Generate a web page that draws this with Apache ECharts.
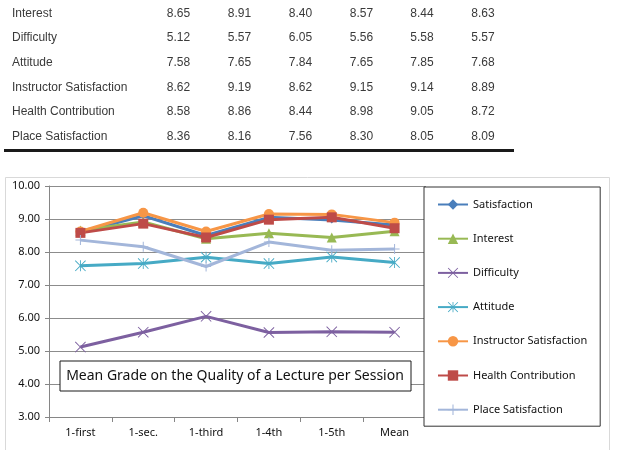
<!DOCTYPE html>
<html><head><meta charset="utf-8">
<script src="https://cdn.jsdelivr.net/npm/echarts@6/dist/echarts.min.js"></script>
<style>html,body{margin:0;padding:0;background:#fff}#c{width:619px;height:450px}</style>
</head><body><div id="c"></div>
<script>
const categories = ['1-first', '1-sec.', '1-third', '1-4th', '1-5th', 'Mean'];
const seriesNames = ['Satisfaction', 'Interest', 'Difficulty', 'Attitude', 'Instructor Satisfaction', 'Health Contribution', 'Place Satisfaction'];
const satisfaction = [8.60, 9.10, 8.50, 9.05, 8.97, 8.82];
const interest = [8.65, 8.91, 8.40, 8.57, 8.44, 8.63];
const difficulty = [5.12, 5.57, 6.05, 5.56, 5.58, 5.57];
const attitude = [7.58, 7.65, 7.84, 7.65, 7.85, 7.68];
const instructorSatisfaction = [8.62, 9.19, 8.62, 9.15, 9.14, 8.89];
const healthContribution = [8.58, 8.86, 8.44, 8.98, 9.05, 8.72];
const placeSatisfaction = [8.36, 8.16, 7.56, 8.30, 8.05, 8.09];
const tableRows = ['Interest', 'Difficulty', 'Attitude', 'Instructor Satisfaction', 'Health Contribution', 'Place Satisfaction'];
const tableValues = [interest, difficulty, attitude, instructorSatisfaction, healthContribution, placeSatisfaction];
const yTicks = [3, 4, 5, 6, 7, 8, 9, 10];
const chartTitle = 'Mean Grade on the Quality of a Lecture per Session';

const allSeries = [satisfaction, interest, difficulty, attitude, instructorSatisfaction, healthContribution, placeSatisfaction];
const colors = ['#4A7EBB', '#98B954', '#7D60A0', '#46AAC5', '#F79646', '#BE4B48', '#A3B6DA'];
const X_PATH = 'path://M0,0.6L0.6,0L5,4.4L9.4,0L10,0.6L5.6,5L10,9.4L9.4,10L5,5.6L0.6,10L0,9.4L4.4,5Z';
const STAR_PATH = 'path://M0,0.6L0.6,0L5,4.4L9.4,0L10,0.6L5.6,5L10,9.4L9.4,10L5,5.6L0.6,10L0,9.4L4.4,5ZM4.6,0L5.4,0L5.4,10L4.6,10Z';
const PLUS_PATH = 'path://M4.5,0L5.5,0L5.5,4.5L10,4.5L10,5.5L5.5,5.5L5.5,10L4.5,10L4.5,5.5L0,5.5L0,4.5L4.5,4.5Z';
const symbols = ['diamond', 'triangle', X_PATH, STAR_PATH, 'circle', 'rect', PLUS_PATH];
const symbolSizes = [7, 10, 11, 11, 10, 10, 10];

const chart = echarts.init(document.getElementById('c'), null, {renderer: 'canvas'});

const graphics = [];
// chart outer frame
graphics.push({type: 'rect', left: 5, top: 177, z: -10, shape: {width: 604, height: 290},
  style: {fill: '#fff', stroke: '#D9D9D9', lineWidth: 1}});
// table
const colX = [178.5, 239.5, 300.5, 361.5, 422, 483];
tableRows.forEach((name, r) => {
  const y = 13.5 + r * 24.6;
  graphics.push({type: 'text', x: 12, y: y, style: {text: name, font: '12px "Liberation Sans", Arial, sans-serif',
    fill: '#3a3a3a', textAlign: 'left', textVerticalAlign: 'middle'}});
  tableValues[r].forEach((v, c) => {
    graphics.push({type: 'text', x: colX[c], y: y, style: {text: v.toFixed(2), font: '12px "Liberation Sans", Arial, sans-serif',
      fill: '#3a3a3a', textAlign: 'center', textVerticalAlign: 'middle'}});
  });
});
graphics.push({type: 'rect', left: 4, top: 149, shape: {width: 510, height: 3}, style: {fill: '#1a1a1a'}});
// title box
graphics.push({type: 'rect', left: 59.5, top: 360.5, z: 50, shape: {width: 351, height: 30},
  style: {fill: '#fff', stroke: '#1a1a1a', lineWidth: 1}});
graphics.push({type: 'text', x: 235, y: 376, z: 51, style: {text: chartTitle, font: '14px "Noto Sans", sans-serif',
  fill: '#111', textAlign: 'center', textVerticalAlign: 'middle'}});

const option = {
  animation: false,
  backgroundColor: '#fff',
  color: colors,
  textStyle: {fontFamily: '"Noto Sans", sans-serif'},
  grid: {left: 49, right: 193, top: 186, bottom: 33, containLabel: false},
  legend: {
    orient: 'vertical', left: 424, top: 187,
    padding: [12, 13, 11, 13], itemGap: 23.2, itemWidth: 30, itemHeight: 13,
    borderColor: '#333', borderWidth: 1, backgroundColor: '#fff',
    textStyle: {fontSize: 11, color: '#111', fontFamily: '"Noto Sans", sans-serif'},
    data: seriesNames
  },
  xAxis: {
    type: 'category', data: categories, boundaryGap: true,
    axisLine: {lineStyle: {color: '#868686', width: 1}},
    axisTick: {show: true, length: 5, lineStyle: {color: '#868686'}},
    axisLabel: {fontSize: 11, color: '#111', margin: 10}
  },
  yAxis: {
    type: 'value', min: yTicks[0], max: yTicks[yTicks.length - 1], interval: 1,
    axisLine: {show: true, lineStyle: {color: '#868686', width: 1}},
    axisTick: {show: true, length: 4, lineStyle: {color: '#868686'}},
    axisLabel: {fontSize: 11, color: '#111', margin: 9, formatter: v => v.toFixed(2)},
    splitLine: {show: true, lineStyle: {color: '#8C8C8C', width: 1}}
  },
  series: allSeries.map((d, i) => ({
    name: seriesNames[i], type: 'line', data: d,
    symbol: symbols[i], symbolSize: symbolSizes[i], showSymbol: true,
    lineStyle: {width: 3, color: colors[i]},
    itemStyle: {color: colors[i]},
    emphasis: {disabled: true}
  })),
  graphic: graphics
};
chart.setOption(option);
</script></body></html>
